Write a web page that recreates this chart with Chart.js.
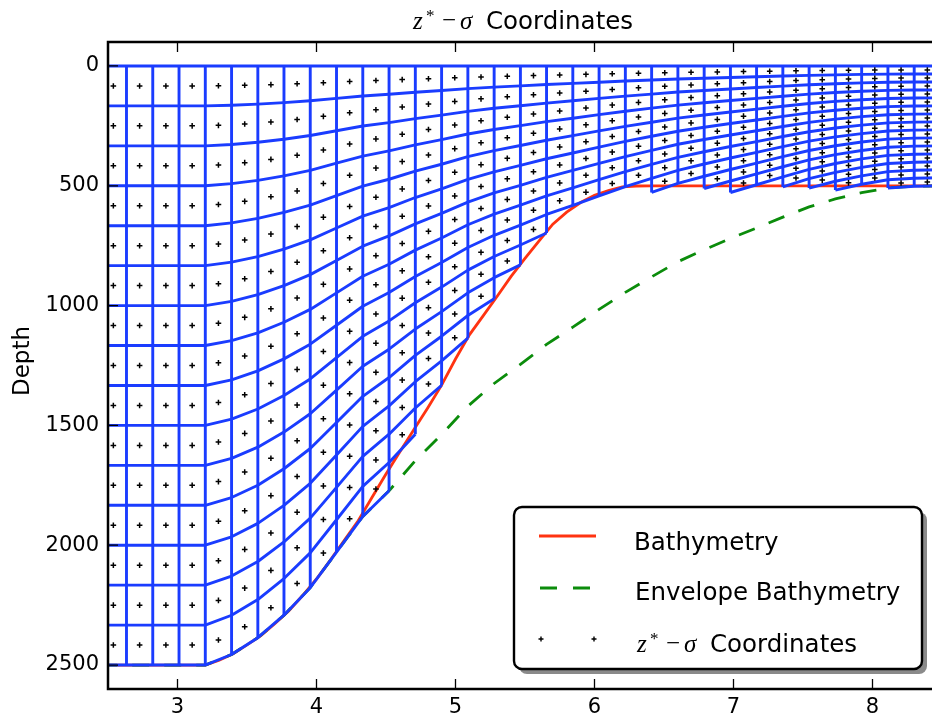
<!DOCTYPE html>
<html><head><meta charset="utf-8">
<script src="https://cdn.jsdelivr.net/npm/chart.js@4/dist/chart.umd.min.js"></script>
<style>html,body{margin:0;padding:0;overflow:hidden;background:#fff}canvas{display:block}</style>
</head><body>
<canvas id="c" width="950" height="720" style="width:950px;height:720px"></canvas>
<script>
// ---------------- data ----------------
const xTickValues = [3, 4, 5, 6, 7, 8];
const yTickValues = [0, 500, 1000, 1500, 2000, 2500];

// x of the vertical grid lines (u-points)
const gridLineX = [2.444, 2.633, 2.822, 3.011, 3.200, 3.389, 3.578, 3.766, 3.955, 4.144,
  4.333, 4.522, 4.711, 4.900, 5.089, 5.278, 5.467, 5.655, 5.844, 6.033,
  6.222, 6.411, 6.600, 6.789, 6.978, 7.166, 7.355, 7.544, 7.733, 7.922,
  8.111, 8.300, 8.489, 8.678];
// envelope bathymetry depth at those x
const envelopeDepth = [2500, 2500, 2500, 2500, 2500, 2456, 2386, 2292, 2177, 2029,
  1880, 1773, 1647, 1538, 1420, 1325, 1245, 1162, 1090, 1016,
  945, 880, 817, 767, 720, 676, 631, 588, 555, 529,
  509, 502, 500, 500];
// number of wet model levels in each column (between two grid lines)
const wetLevelCount = [15, 15, 15, 15, 15, 15, 15, 15, 15, 15, 15,
  14, 13, 12, 11, 10, 9, 8, 8, 8, 8, 9, 9, 10, 11, 11, 12, 13, 14, 14, 15, 15, 15];
const levelCount = 15;

// real bathymetry
const bathyX = [2.4, 3.2, 3.3, 3.4, 3.5, 3.6, 3.7, 3.8, 3.9, 4.0, 4.1, 4.2, 4.3, 4.4, 4.5,
  4.6, 4.7, 4.8, 4.9, 5.0, 5.1, 5.2, 5.3, 5.4, 5.5, 5.6, 5.7, 5.8, 5.9, 6.0,
  6.1, 6.2, 6.3, 6.4, 8.7];
const bathyDepth = [2500, 2500, 2480, 2453, 2416, 2377, 2327, 2275, 2210, 2141, 2062, 1980, 1898, 1800, 1703,
  1610, 1518, 1427, 1332, 1223, 1122, 1042, 961, 878, 803, 731, 660, 610, 570, 540,
  520, 505, 501, 500, 500];

// ---------------- build datasets ----------------
const BLUE = '#1a3cff', RED = '#ff3311', GREEN = '#0b8c0b';
const nCols = gridLineX.length - 1;
const levelDepth = (k, j) => k / levelCount * envelopeDepth[j];

const datasets = [];
datasets.push({
  label: 'Bathymetry', data: bathyX.map((x, i) => ({x, y: bathyDepth[i]})),
  showLine: true, borderColor: RED, borderWidth: 2.8, pointRadius: 0, order: 6
});
datasets.push({
  label: 'Envelope Bathymetry', data: gridLineX.map((x, i) => ({x, y: envelopeDepth[i]})),
  showLine: true, borderColor: GREEN, borderDash: [17, 15], borderWidth: 2.8, pointRadius: 0, order: 5
});
for (let k = 0; k <= levelCount; k++) {
  const pts = [];
  let open = false;
  for (let i = 0; i < nCols; i++) {
    if (wetLevelCount[i] >= k) {
      if (!open) pts.push({x: gridLineX[i], y: levelDepth(k, i)});
      pts.push({x: gridLineX[i + 1], y: levelDepth(k, i + 1)});
      open = true;
    } else {
      if (open) pts.push({x: (gridLineX[i] + gridLineX[i + 1]) / 2, y: null});
      open = false;
    }
  }
  datasets.push({label: 'level' + k, data: pts, showLine: true, borderColor: BLUE, borderWidth: 2.9,
    pointRadius: 0, order: 2, borderJoinStyle: 'round'});
}
const vpts = [];
for (let j = 0; j < gridLineX.length; j++) {
  const wet = Math.max(j > 0 ? wetLevelCount[j - 1] : 0, j < nCols ? wetLevelCount[j] : 0);
  vpts.push({x: gridLineX[j], y: 0}, {x: gridLineX[j], y: levelDepth(wet, j)}, {x: gridLineX[j], y: null});
}
datasets.push({label: 'verticals', data: vpts, showLine: true, borderColor: BLUE, borderWidth: 2.9,
  pointRadius: 0, order: 2});
const mpts = [];
for (let i = 0; i < nCols; i++) {
  const xc = (gridLineX[i] + gridLineX[i + 1]) / 2;
  const env = (envelopeDepth[i] + envelopeDepth[i + 1]) / 2;
  for (let k = 0; k < wetLevelCount[i]; k++) mpts.push({x: xc, y: (k + 0.5) / levelCount * env});
}
datasets.push({label: 'z*-sigma Coordinates', data: mpts, showLine: false, pointStyle: 'cross',
  pointRadius: 2.8, borderColor: '#000', backgroundColor: '#000', pointBorderWidth: 1.5, borderWidth: 1.5, order: 0});

// ---------------- drawing helpers ----------------
function mathText(ctx, x, base) {
  ctx.fillStyle = '#000';
  ctx.textAlign = 'left'; ctx.textBaseline = 'alphabetic';
  ctx.font = 'italic 25px "Liberation Serif"'; ctx.fillText('z', x, base);
  ctx.font = '17px "Liberation Serif"'; ctx.fillText('*', x + 13, base - 8);
  ctx.font = '25px "Liberation Serif"'; ctx.fillText('\u2212', x + 29, base - 1);
  ctx.font = 'italic 25px "Liberation Serif"'; ctx.fillText('\u03c3', x + 47, base);
  ctx.font = '24.5px "DejaVu Sans"'; ctx.fillText('Coordinates', x + 73, base);
}

const deco = {
  id: 'deco',
  afterDraw(chart) {
    const ctx = chart.ctx, a = chart.chartArea, xs = chart.scales.x, ys = chart.scales.y;
    ctx.save();
    ctx.strokeStyle = '#000';
    ctx.lineWidth = 1.3;
    const TL = 10;
    ctx.beginPath();
    xTickValues.forEach(v => {
      const p = xs.getPixelForValue(v);
      ctx.moveTo(p, a.top); ctx.lineTo(p, a.top + TL);
      ctx.moveTo(p, a.bottom); ctx.lineTo(p, a.bottom - TL);
    });
    yTickValues.forEach(v => {
      const p = ys.getPixelForValue(v);
      ctx.moveTo(a.left, p); ctx.lineTo(a.left + TL, p);
      ctx.moveTo(a.right, p); ctx.lineTo(a.right - TL, p);
    });
    ctx.stroke();
    ctx.lineWidth = 2.5;
    ctx.strokeRect(a.left, a.top, a.right - a.left, a.bottom - a.top);

    // title
    const cx = (a.left + a.right) / 2;
    mathText(ctx, cx - 112, 29);

    // y label
    ctx.save();
    ctx.translate(29, 361);
    ctx.rotate(-Math.PI / 2);
    ctx.font = '23px "DejaVu Sans"'; ctx.fillStyle = '#000';
    ctx.textAlign = 'center'; ctx.textBaseline = 'alphabetic';
    ctx.fillText('Depth', 0, 0);
    ctx.restore();

    // legend
    const L = 514, T = 507, R = 922, B = 669, rad = 8;
    const rr = (x0, y0, x1, y1) => {
      ctx.beginPath();
      ctx.moveTo(x0 + rad, y0); ctx.lineTo(x1 - rad, y0); ctx.arcTo(x1, y0, x1, y0 + rad, rad);
      ctx.lineTo(x1, y1 - rad); ctx.arcTo(x1, y1, x1 - rad, y1, rad);
      ctx.lineTo(x0 + rad, y1); ctx.arcTo(x0, y1, x0, y1 - rad, rad);
      ctx.lineTo(x0, y0 + rad); ctx.arcTo(x0, y0, x0 + rad, y0, rad);
      ctx.closePath();
    };
    rr(L + 5, T + 5, R + 5, B + 5); ctx.fillStyle = '#8a8a8a'; ctx.fill();
    rr(L, T, R, B); ctx.fillStyle = '#fff'; ctx.fill();
    ctx.lineWidth = 2.4; ctx.strokeStyle = '#000'; ctx.stroke();

    ctx.lineWidth = 2.8;
    ctx.strokeStyle = datasets[0].borderColor;
    ctx.beginPath(); ctx.moveTo(539, 536); ctx.lineTo(596, 536); ctx.stroke();
    ctx.strokeStyle = datasets[1].borderColor;
    ctx.beginPath(); ctx.moveTo(540, 588); ctx.lineTo(557, 588); ctx.moveTo(573, 588); ctx.lineTo(590, 588); ctx.stroke();
    ctx.strokeStyle = '#000'; ctx.lineWidth = 1.4;
    ctx.beginPath();
    [541, 594].forEach(px => { ctx.moveTo(px - 2.5, 639); ctx.lineTo(px + 2.5, 639); ctx.moveTo(px, 636.5); ctx.lineTo(px, 641.5); });
    ctx.stroke();

    ctx.fillStyle = '#000'; ctx.textAlign = 'left'; ctx.textBaseline = 'alphabetic';
    ctx.font = '24.5px "DejaVu Sans"';
    ctx.fillText(datasets[0].label, 634, 550);
    ctx.fillText(datasets[1].label, 635, 600);
    mathText(ctx, 637, 652);
    ctx.restore();
  }
};

Chart.defaults.font.family = '"DejaVu Sans", sans-serif';
Chart.defaults.color = '#000';

new Chart(document.getElementById('c'), {
  type: 'scatter',
  data: {datasets},
  plugins: [deco],
  options: {
    responsive: false, animation: false, devicePixelRatio: 1, events: [],
    layout: {padding: {left: 0, right: 8, top: 42, bottom: 0}},
    plugins: {legend: {display: false}, tooltip: {enabled: false}, title: {display: false}},
    scales: {
      x: {
        type: 'linear', min: 2.5, max: 8.5,
        grid: {display: false, drawTicks: false}, border: {display: false},
        ticks: {font: {size: 21}, color: '#000', padding: 6, maxRotation: 0, callback: v => String(v)},
        afterBuildTicks: s => { s.ticks = xTickValues.map(v => ({value: v})); },
        afterFit: s => { s.height = 31; }
      },
      y: {
        type: 'linear', reverse: true, min: -100, max: 2600,
        grid: {display: false, drawTicks: false}, border: {display: false},
        ticks: {font: {size: 21}, color: '#000', padding: 9, callback: v => String(v)},
        afterBuildTicks: s => { s.ticks = yTickValues.map(v => ({value: v})); },
        afterFit: s => { s.width = 108; }
      }
    }
  }
});
</script>
</body></html>
